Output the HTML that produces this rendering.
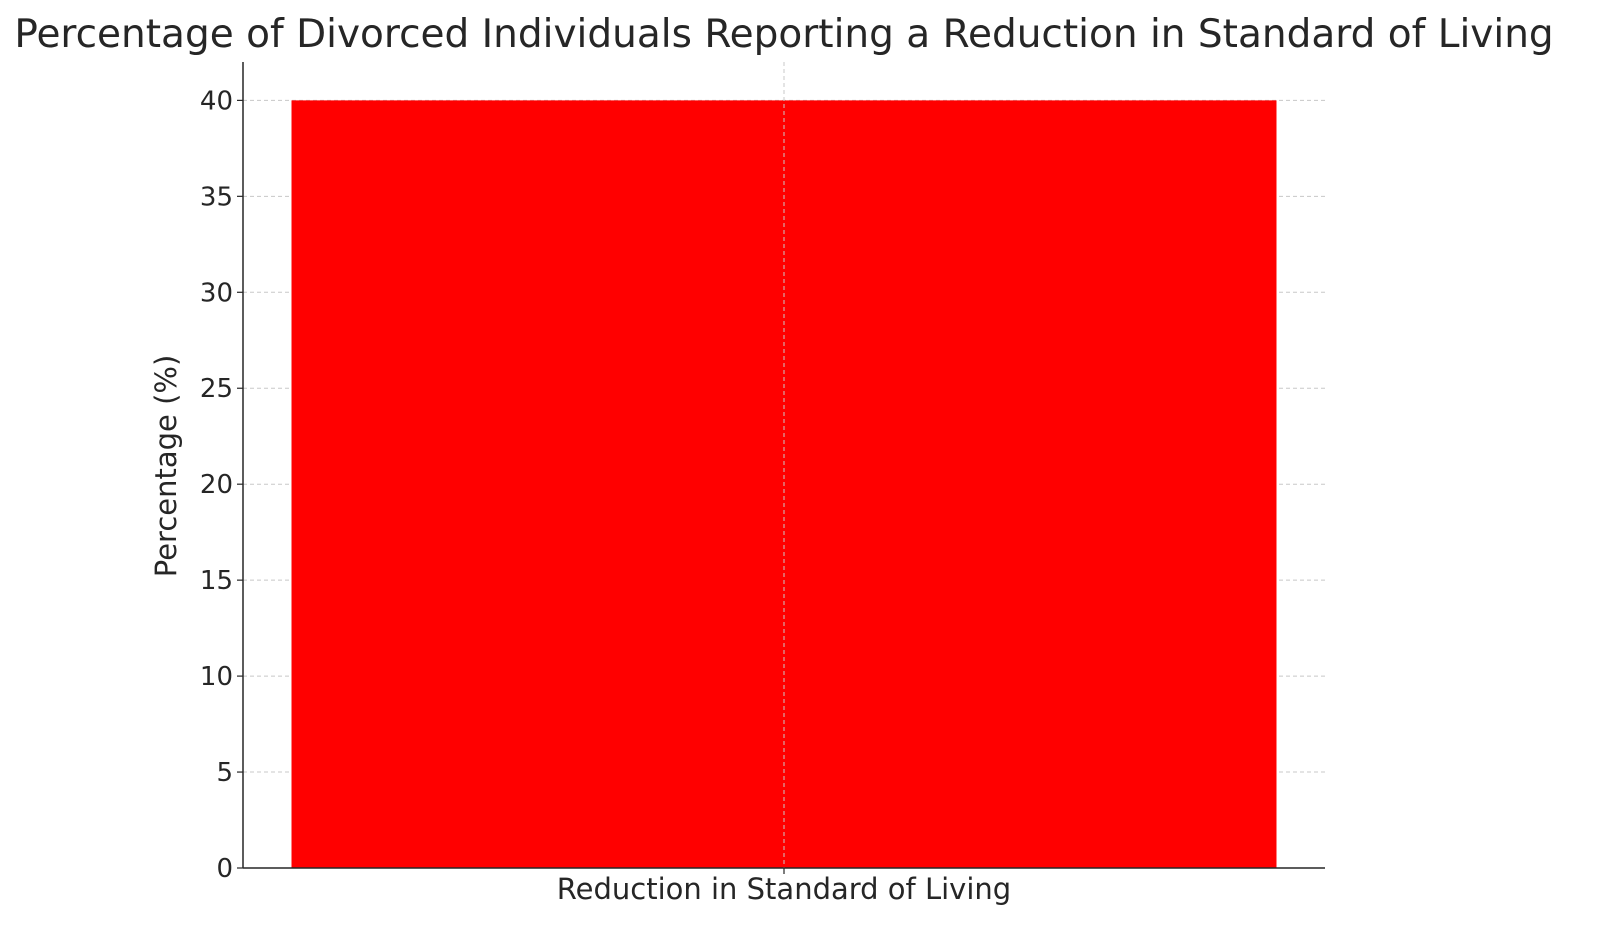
<!DOCTYPE html>
<html><head><meta charset="utf-8"><style>
html,body{margin:0;padding:0;background:#fff;}
svg{display:block;font-family:"DejaVu Sans","Liberation Sans",sans-serif;}
</style></head><body>
<svg id="chart" width="1600" height="942" viewBox="0 0 1600 942">
<text x="784" y="47" text-anchor="middle" font-size="39" fill="#262626">Percentage of Divorced Individuals Reporting a Reduction in Standard of Living</text>
<g id="grid"></g>
<g id="bars"></g>
<g id="axes"></g>
<text transform="translate(176,466) rotate(-90)" text-anchor="middle" font-size="29" fill="#262626">Percentage (%)</text>
</svg>
<script>
const categories = ["Reduction in Standard of Living"];
const values = [40];
const yTicks = [0,5,10,15,20,25,30,35,40];
const yMax = 42;

const NS = "http://www.w3.org/2000/svg";
const L = 243, R = 1325, T = 62, B = 868;
const y = v => B - (v / yMax) * (B - T);
const band = (R - L) / categories.length;
const xc = i => L + band * (i + 0.5);
const bw = 985;
function mk(tag, attrs, parent){const e=document.createElementNS(NS,tag);for(const k in attrs)e.setAttribute(k,attrs[k]);parent.appendChild(e);return e;}
const grid=document.getElementById('grid'), bars=document.getElementById('bars'), axes=document.getElementById('axes');
yTicks.forEach(t=>{
  const g=mk('line',{x1:L,x2:R,y1:y(t),y2:y(t),stroke:'#c8c8c8','stroke-width':1,'stroke-dasharray':'4,3'},grid);
  
  
  const tk=mk('line',{x1:L-6,x2:L,y1:y(t),y2:y(t),stroke:'#262626','stroke-width':1.2},axes);
  
  
  const tl=mk('text',{x:L-10,y:y(t)+9,'text-anchor':'end','font-size':'26',fill:'#262626'},axes);
  tl.textContent=t;
  
  
});
categories.forEach((c,i)=>{
  const b=mk('rect',{x:xc(i)-bw/2,y:y(values[i]),width:bw,height:B-y(values[i]),fill:'#ff0000'},bars);
  
  
  const vg=mk('line',{x1:xc(i),x2:xc(i),y1:T,y2:B,stroke:'#c8c8c8','stroke-width':1,'stroke-dasharray':'4,3'},bars);
  
  
  const tk=mk('line',{x1:xc(i),x2:xc(i),y1:B,y2:B+6,stroke:'#262626','stroke-width':1.2},axes);
  
  
  const tl=mk('text',{x:xc(i),y:B+31,'text-anchor':'middle','font-size':'29',fill:'#262626'},axes);
  tl.textContent=c;
  
  
});
const ls=mk('line',{x1:L,x2:L,y1:T,y2:B,stroke:'#262626','stroke-width':1.5},axes);


const bs=mk('line',{x1:L,x2:R,y1:B,y2:B,stroke:'#262626','stroke-width':1.5},axes);


</script>
</body></html>
